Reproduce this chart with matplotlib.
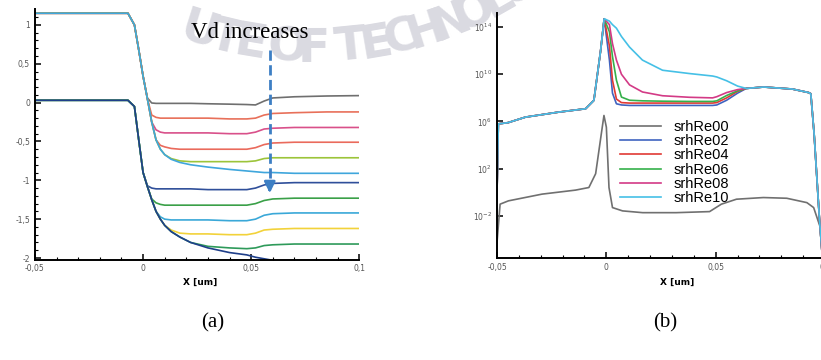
import numpy as np
import matplotlib.pyplot as plt

# ---- panel (a): potential along x ----
xa = [-0.05, -0.007, -0.004, -0.002, 0.0, 0.002, 0.004, 0.006, 0.008, 0.01, 0.013,
      0.017, 0.022, 0.03, 0.04, 0.048, 0.052, 0.056, 0.06, 0.07, 0.085, 0.1]

# upper family (starts at 1.15)
up_grey   = [1.15, 1.15, 1.0, 0.68, 0.34, 0.06, -0.005, -0.01, -0.01, -0.01, -0.01,
             -0.01, -0.01, -0.015, -0.02, -0.025, -0.03, 0.02, 0.06, 0.075, 0.085, 0.09]
up_red1   = [1.15, 1.15, 1.0, 0.68, 0.34, 0.05, -0.16, -0.19, -0.2, -0.2, -0.2,
             -0.2, -0.2, -0.2, -0.21, -0.21, -0.2, -0.16, -0.14, -0.13, -0.12, -0.12]
up_mag    = [1.15, 1.15, 1.0, 0.68, 0.34, 0.05, -0.25, -0.35, -0.38, -0.39, -0.39,
             -0.39, -0.39, -0.39, -0.4, -0.4, -0.38, -0.34, -0.33, -0.32, -0.32, -0.32]
up_red2   = [1.15, 1.15, 1.0, 0.68, 0.34, 0.05, -0.25, -0.48, -0.55, -0.57, -0.59,
             -0.6, -0.6, -0.6, -0.6, -0.6, -0.58, -0.54, -0.52, -0.51, -0.51, -0.51]
up_green  = [1.15, 1.15, 1.0, 0.68, 0.34, 0.05, -0.25, -0.48, -0.6, -0.67, -0.72,
             -0.75, -0.76, -0.76, -0.76, -0.76, -0.75, -0.72, -0.71, -0.71, -0.71, -0.71]
up_cyan   = [1.15, 1.15, 1.0, 0.68, 0.34, 0.05, -0.25, -0.48, -0.6, -0.67, -0.73,
             -0.77, -0.8, -0.83, -0.86, -0.88, -0.89, -0.9, -0.9, -0.91, -0.91, -0.91]

# lower family (starts at 0.03)
lo_blue1  = [0.03, 0.03, -0.05, -0.48, -0.9, -1.07, -1.1, -1.11, -1.11, -1.11, -1.11,
             -1.11, -1.11, -1.12, -1.12, -1.12, -1.1, -1.06, -1.04, -1.03, -1.03, -1.03]
lo_green1 = [0.03, 0.03, -0.05, -0.48, -0.9, -1.08, -1.24, -1.29, -1.31, -1.32, -1.32,
             -1.32, -1.32, -1.32, -1.32, -1.32, -1.3, -1.26, -1.24, -1.23, -1.23, -1.23]
lo_lblue  = [0.03, 0.03, -0.05, -0.48, -0.9, -1.08, -1.25, -1.4, -1.47, -1.5, -1.51,
             -1.51, -1.51, -1.51, -1.52, -1.52, -1.5, -1.45, -1.43, -1.42, -1.42, -1.42]
lo_yellow = [0.03, 0.03, -0.05, -0.48, -0.9, -1.08, -1.25, -1.4, -1.5, -1.58, -1.64,
             -1.68, -1.69, -1.69, -1.7, -1.7, -1.68, -1.64, -1.63, -1.62, -1.62, -1.62]
lo_green2 = [0.03, 0.03, -0.05, -0.48, -0.9, -1.08, -1.25, -1.4, -1.5, -1.58, -1.66,
             -1.73, -1.8, -1.85, -1.87, -1.88, -1.87, -1.84, -1.83, -1.82, -1.82, -1.82]
lo_blue2  = [0.03, 0.03, -0.05, -0.48, -0.9, -1.08, -1.25, -1.4, -1.5, -1.58, -1.66,
             -1.73, -1.8, -1.87, -1.93, -1.96, -1.99, -2.01, -2.03, -2.05, -2.06, -2.07]

curves_a = [
    (up_grey, '#6f6f6f'), (up_red1, '#e8705a'), (up_mag, '#d9508a'),
    (up_red2, '#ea6a5c'), (up_green, '#9cc43a'), (up_cyan, '#3fa6dc'),
    (lo_blue1, '#2f4f9a'), (lo_green1, '#3aa048'), (lo_lblue, '#3aa8d8'),
    (lo_yellow, '#f2d23a'), (lo_green2, '#2e9a5a'), (lo_blue2, '#1f3f8a'),
]

# ---- panel (b): log10 of recombination rate ----
xb = [-0.0506, -0.0494, -0.045, -0.037, -0.022, -0.0095, -0.0057, -0.0026, -0.001,
      0.0014, 0.0028, 0.0046, 0.0069, 0.0106, 0.0165, 0.0257, 0.038, 0.0486, 0.0505,
      0.055, 0.06, 0.064, 0.072, 0.085, 0.0925, 0.0935, 0.095, 0.0975, 0.099]
left_part = [-5.6, 5.8, 5.9, 6.37, 6.79, 7.08, 7.79, 12.04, 14.7]
right_part = [8.8, 8.92, 8.75, 8.45, 8.35, 5.0, -2.4, -6.0]
srh10 = left_part + [14.5, 14.2, 13.9, 13.2, 12.3, 11.2, 10.34, 10.06, 9.85, 9.77, 9.45, 9.0] + right_part
srh08 = left_part + [14.2, 12.6, 11.2, 10.0, 9.1, 8.5, 8.18, 8.05, 8.0, 8.1, 8.45, 8.7] + right_part
srh06 = left_part + [13.6, 11.5, 9.5, 8.07, 7.8, 7.75, 7.72, 7.7, 7.7, 7.75, 8.2, 8.6] + right_part
srh04 = left_part + [12.4, 9.5, 7.9, 7.6, 7.56, 7.56, 7.56, 7.56, 7.56, 7.6, 8.0, 8.55] + right_part
srh02 = left_part + [11.2, 8.4, 7.5, 7.4, 7.36, 7.36, 7.36, 7.36, 7.36, 7.4, 7.8, 8.4] + right_part

xg = [-0.0506, -0.0486, -0.0448, -0.0294, -0.0141, -0.008, -0.0049, -0.0021, -0.0011,
      0.0, 0.0012, 0.0028, 0.0074, 0.0166, 0.0319, 0.0472, 0.0526, 0.0595, 0.0718,
      0.0825, 0.0917, 0.0948, 0.0979]
srh00 = [-5.6, -1.0, -0.72, -0.15, 0.19, 0.41, 1.58, 5.23, 6.51, 5.52, 0.41, -1.29,
         -1.57, -1.72, -1.72, -1.63, -1.0, -0.58, -0.44, -0.5, -0.87, -1.29, -3.0]

labels_b = ['srhRe00', 'srhRe02', 'srhRe04', 'srhRe06', 'srhRe08', 'srhRe10']
colors_b = ['#707070', '#3f63c0', '#e03a35', '#35b04a', '#d33a86', '#45c0e6']

xticks = [-0.05, 0, 0.05, 0.1]
xticklabels = ['-0,05', '0', '0,05', '0,1']
yticks_a = [1, 0.5, 0, -0.5, -1, -1.5, -2]
yticklabels_a = ['1', '0,5', '0', '-0,5', '-1', '-1,5', '-2']
yexp_b = [14, 10, 6, 2, -2]

fig = plt.figure(figsize=(8.21, 3.6), dpi=100)

# faint watermark text along an arc, behind the axes
wm = 'UTE OF TECHNOLO'
xc, yc, R = 312.5, -327, 376
th = np.radians(-17.4)
for i, ch in enumerate(wm):
    if ch == ' ':
        th += 11 / R
        continue
    if i > 0:
        th += 26 / R
    px = xc + R * np.sin(th)
    py = yc + R * np.cos(th)
    fig.text(px / 821, 1 - py / 360, ch, fontsize=34, fontweight='bold',
             family=['Liberation Sans Narrow', 'DejaVu Sans'],
             color='#dadae1', ha='center', va='center',
             rotation=np.degrees(th), zorder=-1)

axa = fig.add_axes([0.0426, 0.279, 0.395, 0.695])
axb = fig.add_axes([0.6054, 0.2833, 0.3995, 0.681])

for ax in (axa, axb):
    ax.set_facecolor('none')
    ax.spines['top'].set_visible(False)
    ax.spines['right'].set_visible(False)
    ax.spines['left'].set_linewidth(1.4)
    ax.spines['bottom'].set_linewidth(1.4)
    ax.tick_params(direction='in', which='major', length=4, width=1.1,
                   labelsize=5.5, labelcolor='#555555')
    ax.tick_params(direction='in', which='minor', length=2, width=0.8)

for vals, col in curves_a:
    axa.plot(xa, vals, color=col, lw=1.2)

axa.set_xlim(-0.05, 0.1)
axa.set_ylim(-2.02, 1.2)
axa.set_xticks(xticks)
axa.set_xticklabels(xticklabels)
axa.set_xticks(np.arange(-0.05, 0.1001, 0.01), minor=True)
axa.set_yticks(yticks_a)
axa.set_yticklabels(yticklabels_a)
axa.set_yticks(np.arange(-2, 1.2, 0.1), minor=True)

axa.text(0.0493, 0.9, 'Vd increases', family='Liberation Serif', fontsize=16.5,
         ha='center', va='center', zorder=5)
axa.plot([0.0586, 0.0586], [0.68, -1.08], ls='--', color='#3d7fc4', lw=2)
axa.annotate('', xy=(0.0586, -1.2), xytext=(0.0586, -1.05),
             arrowprops=dict(arrowstyle='-|>', color='#3d7fc4', lw=2, mutation_scale=16))

series_b = [(xg, srh00), (xb, srh02), (xb, srh04), (xb, srh06), (xb, srh08), (xb, srh10)]
handles = []
for (xs, ys), lab, col in zip(series_b, labels_b, colors_b):
    h, = axb.plot(xs, 10.0 ** np.array(ys), color=col, lw=1.2, label=lab)
    handles.append(h)

axb.set_yscale('log')
axb.set_xlim(-0.05, 0.1)
axb.set_ylim(10 ** -5.56, 10 ** 15.2)
axb.set_xticks(xticks)
axb.set_xticklabels(xticklabels)
axb.set_xticks(np.arange(-0.05, 0.1001, 0.01), minor=True)
axb.set_yticks([10.0 ** e for e in yexp_b])
axb.set_yticklabels(['$10^{%d}$' % e for e in yexp_b])
axb.yaxis.set_minor_locator(plt.NullLocator())

fig.legend(handles=handles, loc='upper left', bbox_to_anchor=(0.755, 0.667),
           bbox_transform=fig.transFigure, frameon=False, borderpad=0, borderaxespad=0,
           labelspacing=0.02, handlelength=2.8, handletextpad=0.9,
           prop={'family': 'Liberation Sans', 'size': 10.5})

fig.text(200 / 821, 1 - 282 / 360, 'X [um]', fontsize=6.5, fontweight='bold',
         ha='center', va='center')
fig.text(677 / 821, 1 - 282 / 360, 'X [um]', fontsize=6.5, fontweight='bold',
         ha='center', va='center')

fig.text(213 / 821, 1 - 323 / 360, '(a)', family='Liberation Serif', fontsize=15,
         ha='center', va='center')
fig.text(665 / 821, 1 - 323 / 360, '(b)', family='Liberation Serif', fontsize=15,
         ha='center', va='center')

fig.savefig('out.png', dpi=100)
